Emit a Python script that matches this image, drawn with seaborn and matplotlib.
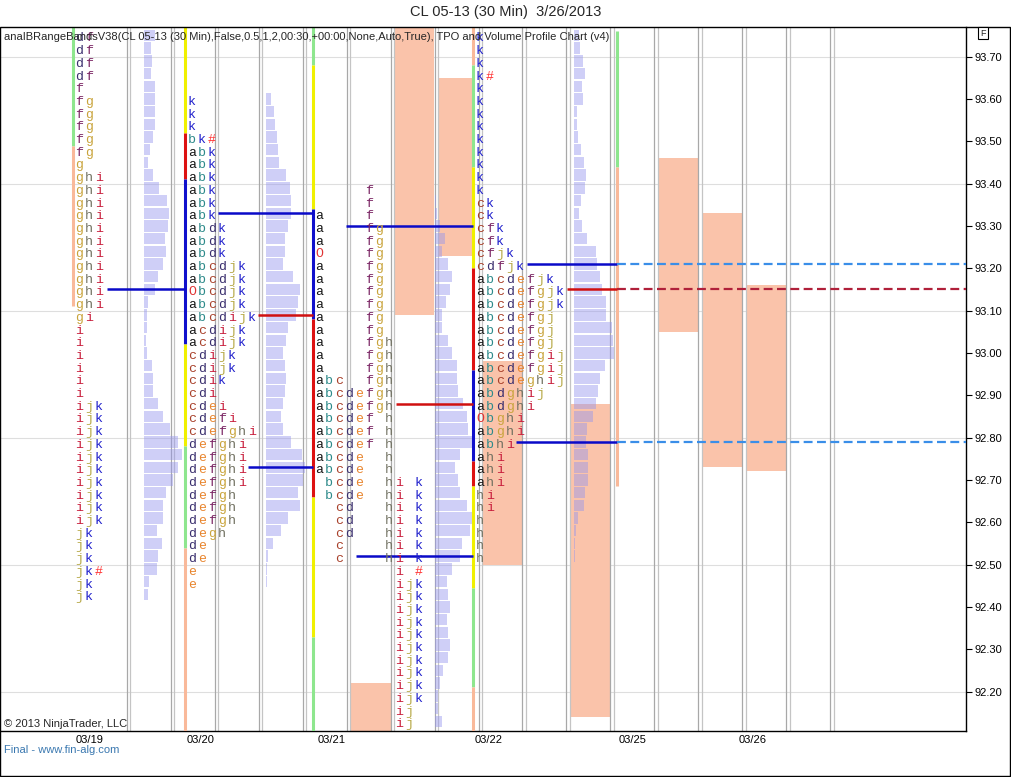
import matplotlib
matplotlib.use("Agg")
import matplotlib.pyplot as plt
from matplotlib.patches import Rectangle
import seaborn as sns

TICK = 0.03

# TPO letters per price row, top row first (space = empty slot)
tpo_0319_top = 93.75
tpo_0319 = (["df"] * 4 + ["f"] + ["fg"] * 5 + ["g"] + ["ghi"] * 11 + ["gi"]
            + ["i"] * 6 + ["ijk"] * 10 + ["jk"] * 3 + ["jk#"] + ["jk"] * 2)
vol_0319 = [11, 7, 8, 7, 11, 11, 11, 11, 9, 6, 4, 9, 15, 23, 25, 24, 21, 22, 19, 14,
            11, 4, 3, 3, 2, 3, 8, 9, 9, 14, 19, 26, 34, 38, 34, 29, 22, 19, 19, 13,
            18, 14, 13, 5, 4]

tpo_0320_top = 93.60
tpo_0320 = (["k"] * 3 + ["bk#"] + ["abk"] * 6 + ["abdk"] * 3 + ["abcdjk"] * 2
            + ["Obcdjk", "abcdjk", "abcdijk", "acdijk", "acdijk", "cdijk", "cdijk",
               "cdik", "cdi", "cdei", "cdefi", "cdefghi"]
            + ["defghi"] * 4 + ["defgh"] * 3 + ["degh", "de", "de", "e", "e"])
vol_0320 = [5, 8, 9, 11, 12, 13, 20, 24, 25, 25, 22, 19, 19, 17, 27, 34, 32, 30, 22, 20,
            17, 19, 20, 19, 17, 15, 17, 25, 36, 39, 37, 32, 34, 22, 15, 7, 2, 1, 1]

tpo_0321_top = 93.39
tpo_0321 = (["     f"] * 2 + ["a    f"] + ["a    fg"] * 2 + ["O    fg"] + ["a    fg"] * 6
            + ["a    fgh"] * 3 + ["abc  fgh"] + ["abcdefgh"] * 2 + ["abcdef h"] * 3
            + ["abcde  h"] * 2 + [" bcde  hi k"] * 2 + ["  cd   hi k"] * 3
            + ["  c    hi k"] * 2 + ["        i #"] + ["        ijk"] * 10
            + ["        ij"] * 2)
vol_0321 = [0, 1, 2, 5, 10, 7, 13, 17, 15, 11, 7, 7, 13, 17, 22, 22, 23, 28, 32, 33,
            37, 25, 20, 23, 25, 32, 37, 35, 27, 25, 17, 12, 13, 15, 12, 13, 15, 13, 8, 5,
            3, 3, 7]

tpo_0322_top = 93.75
tpo_0322 = (["k"] * 3 + ["k#"] + ["k"] * 9 + ["ck"] * 2 + ["cfk"] * 2
            + ["cfjk", "cdfjk", "abcdefjk"] + ["abcdefgjk"] * 2 + ["abcdefgj"] * 3
            + ["abcdefgij"] * 2 + ["abcdeghij", "abdghij", "abdghi", "Obghi", "abghi",
                                   "abhi"] + ["ahi"] * 3 + ["hi"] * 2 + ["h"] * 4)
vol_0322 = [5, 6, 9, 11, 8, 9, 3, 3, 4, 7, 10, 12, 11, 7, 5, 8, 13, 22, 23, 26,
            28, 32, 32, 38, 39, 40, 31, 26, 24, 22, 19, 13, 12, 14, 14, 14, 11, 10, 4, 2,
            1, 1]

# projected range bands (high, low)
band_high = [93.77, 93.65, 92.22, 92.98, 92.88, 93.46, 93.33, 93.16]
band_low = [93.09, 93.23, 92.107, 92.50, 92.14, 93.05, 92.73, 92.72]

# session marker lines: price breaks and segment colours
seg_0319 = [93.77, 93.49, 93.11]
seg_0319_c = ["green", "salmon"]
seg_0320 = [93.77, 93.52, 93.41, 93.02, 92.78, 92.54, 92.107]
seg_0320_c = ["yellow", "red", "blue", "yellow", "green", "salmon"]
seg_0321 = [93.77, 93.68, 93.34, 93.08, 92.66, 92.33, 92.107]
seg_0321_c = ["green", "yellow", "blue", "red", "yellow", "green"]
seg_0322 = [93.77, 93.68, 93.44, 93.20, 92.96, 92.745, 92.686, 92.445, 92.21, 92.107]
seg_0322_c = ["salmon", "green", "yellow", "red", "blue", "red", "yellow", "green", "salmon"]
seg_0325 = [93.76, 93.44, 92.686]
seg_0325_c = ["green", "salmon"]

# POC / value area levels
level_price = [93.15, 93.33, 93.09, 92.73, 93.30, 92.88, 92.52, 93.21, 93.15, 92.79]
level_kind = ["va", "va", "poc", "va", "va", "poc", "va", "va", "poc", "va"]
level_naked = [False] * 7 + [True] * 3

dates = ["03/19", "03/20", "03/21", "03/22", "03/25", "03/26"]
price_ticks = [92.20 + 0.1 * i for i in range(16)]
grid_prices = [93.70, 93.40, 93.10, 92.80, 92.50, 92.20]

# ---------------- layout ----------------
W, H = 1012, 777
tpo_x = [79, 192, 319, 480]
vol_x = [144, 266, 435, 574]
seg_x = [73, 185, 313, 473, 617]
band_x = [(394, 434), (438, 473), (350, 391), (483, 522), (570, 610),
          (658, 698), (702, 742), (746, 787)]
level_x = [(107, 185), (218, 313), (258, 313), (248, 313), (346, 473), (396, 473),
           (356, 473), (527, 617), (567, 617), (516, 617)]
date_x = [90, 201, 332, 489, 633, 753]
gray_x = [127 + 43.94 * k for k in range(17)]
slot = 10
text_drop = 0.007  # letters sit a little below the row centre

letter_col = {"a": "#161616", "b": "#2e8b8b", "c": "#a8402a", "d": "#3a2f6e",
              "e": "#e8842c", "f": "#7a2463", "g": "#c9a43c", "h": "#6f6f5f",
              "i": "#c81e3c", "j": "#b8aa4a", "k": "#2222cc", "O": "#e03333",
              "#": "#ff3333"}
seg_col = {"green": "#8ee68e", "yellow": "#f0f000", "red": "#dd1111",
           "blue": "#1010cc", "salmon": "#f9b99a"}

sns.set_theme(style="white")
plt.rcParams["font.family"] = ["Liberation Sans", "DejaVu Sans"]

fig = plt.figure(figsize=(W / 100, H / 100), dpi=100)
ax = fig.add_axes([1 / W, 46 / H, 965 / W, 704 / H])
ax.set_xlim(1, 966)
ax.set_ylim(92.107, 93.770)

for p in grid_prices:
    ax.axhline(p, color="#dedede", lw=0.8, zorder=0.5)
for gx in gray_x:
    ax.axvline(gx, color="#a8a8a8", lw=0.9, zorder=1.5)
    ax.axvline(gx + 3.5, color="#c4c4c4", lw=0.9, zorder=1.5)

for (x0, x1), hi, lo in zip(band_x, band_high, band_low):
    ax.add_patch(Rectangle((x0, lo), x1 - x0, hi - lo, fc="#fac3aa", ec="none", zorder=1))

for vx, top, vols in zip(vol_x, [tpo_0319_top, tpo_0320_top, tpo_0321_top, tpo_0322_top],
                         [vol_0319, vol_0320, vol_0321, vol_0322]):
    prices = [top - i * TICK for i in range(len(vols))]
    ax.barh(prices, vols, left=vx, height=0.027, color="#9696ee", alpha=0.45,
            lw=0, zorder=2)

for sx, br, cols in zip(seg_x, [seg_0319, seg_0320, seg_0321, seg_0322, seg_0325],
                        [seg_0319_c, seg_0320_c, seg_0321_c, seg_0322_c, seg_0325_c]):
    for k, c in enumerate(cols):
        ax.plot([sx, sx], [br[k], br[k + 1]], color=seg_col[c], lw=2.2,
                solid_capstyle="butt", zorder=3)

for (x0, x1), p, kind, naked in zip(level_x, level_price, level_kind, level_naked):
    c = "#0a0ac8" if kind == "va" else "#d01010"
    ax.plot([x0, x1], [p, p], color=c, lw=1.8, zorder=3.5, solid_capstyle="butt")
    if naked:
        dc = "#3a8ee8" if kind == "va" else "#b0203a"
        ax.plot([x1, 966], [p, p], color=dc, lw=1.6, ls=(0, (4, 2)), zorder=3.5)

for tx, top, rows in zip(tpo_x, [tpo_0319_top, tpo_0320_top, tpo_0321_top, tpo_0322_top],
                         [tpo_0319, tpo_0320, tpo_0321, tpo_0322]):
    for i, row in enumerate(rows):
        p = top - i * TICK - text_drop
        for j, ch in enumerate(row):
            if ch == " ":
                continue
            ax.text(tx + j * slot, p, ch, color=letter_col[ch], ha="center", va="center",
                    family="Liberation Mono", fontsize=9.5, zorder=4)

# axes cosmetics
for s in ["top", "left"]:
    ax.spines[s].set_visible(False)
for s in ["right", "bottom"]:
    ax.spines[s].set_color("black")
    ax.spines[s].set_linewidth(1)
ax.yaxis.tick_right()
ax.set_yticks(price_ticks)
ax.set_yticklabels([f"{p:.2f}" for p in price_ticks])
ax.tick_params(axis="y", which="both", right=True, length=4, width=0.8, pad=2,
               labelsize=8, colors="black")
ax.set_xticks(date_x)
ax.set_xticklabels(dates)
ax.tick_params(axis="x", length=0, pad=3, labelsize=8, colors="black")
ax.grid(False)

fig.add_artist(Rectangle((0.5 / W, 0.6 / H), (W - 2) / W, 749 / H, fill=False,
                         ec="black", lw=1, transform=fig.transFigure))

fig.text(0.5, 1 - 12 / H, "CL 05-13 (30 Min)  3/26/2013", ha="center", va="center",
         fontsize=10.5)
fig.text(4 / W, 1 - 37 / H,
         "anaIBRangeBandsV38(CL 05-13 (30 Min),False,0.5,1,2,00:30,+00:00,None,Auto,True),"
         " TPO and Volume Profile Chart (v4)", ha="left", va="center", fontsize=8.0,
         zorder=6)
fig.text(4 / W, 1 - 724 / H, "\u00a9 2013 NinjaTrader, LLC", ha="left", va="center",
         fontsize=8.0)
fig.text(4 / W, 1 - 750 / H, "Final - www.fin-alg.com", ha="left", va="center",
         fontsize=8.0, color="#3a78b0")
fig.text(983 / W, 1 - 33 / H, "F", ha="center", va="center", fontsize=6.5,
         bbox=dict(boxstyle="square,pad=0.2", fc="white", ec="black", lw=0.8))

fig.savefig("out.png", dpi=100)
